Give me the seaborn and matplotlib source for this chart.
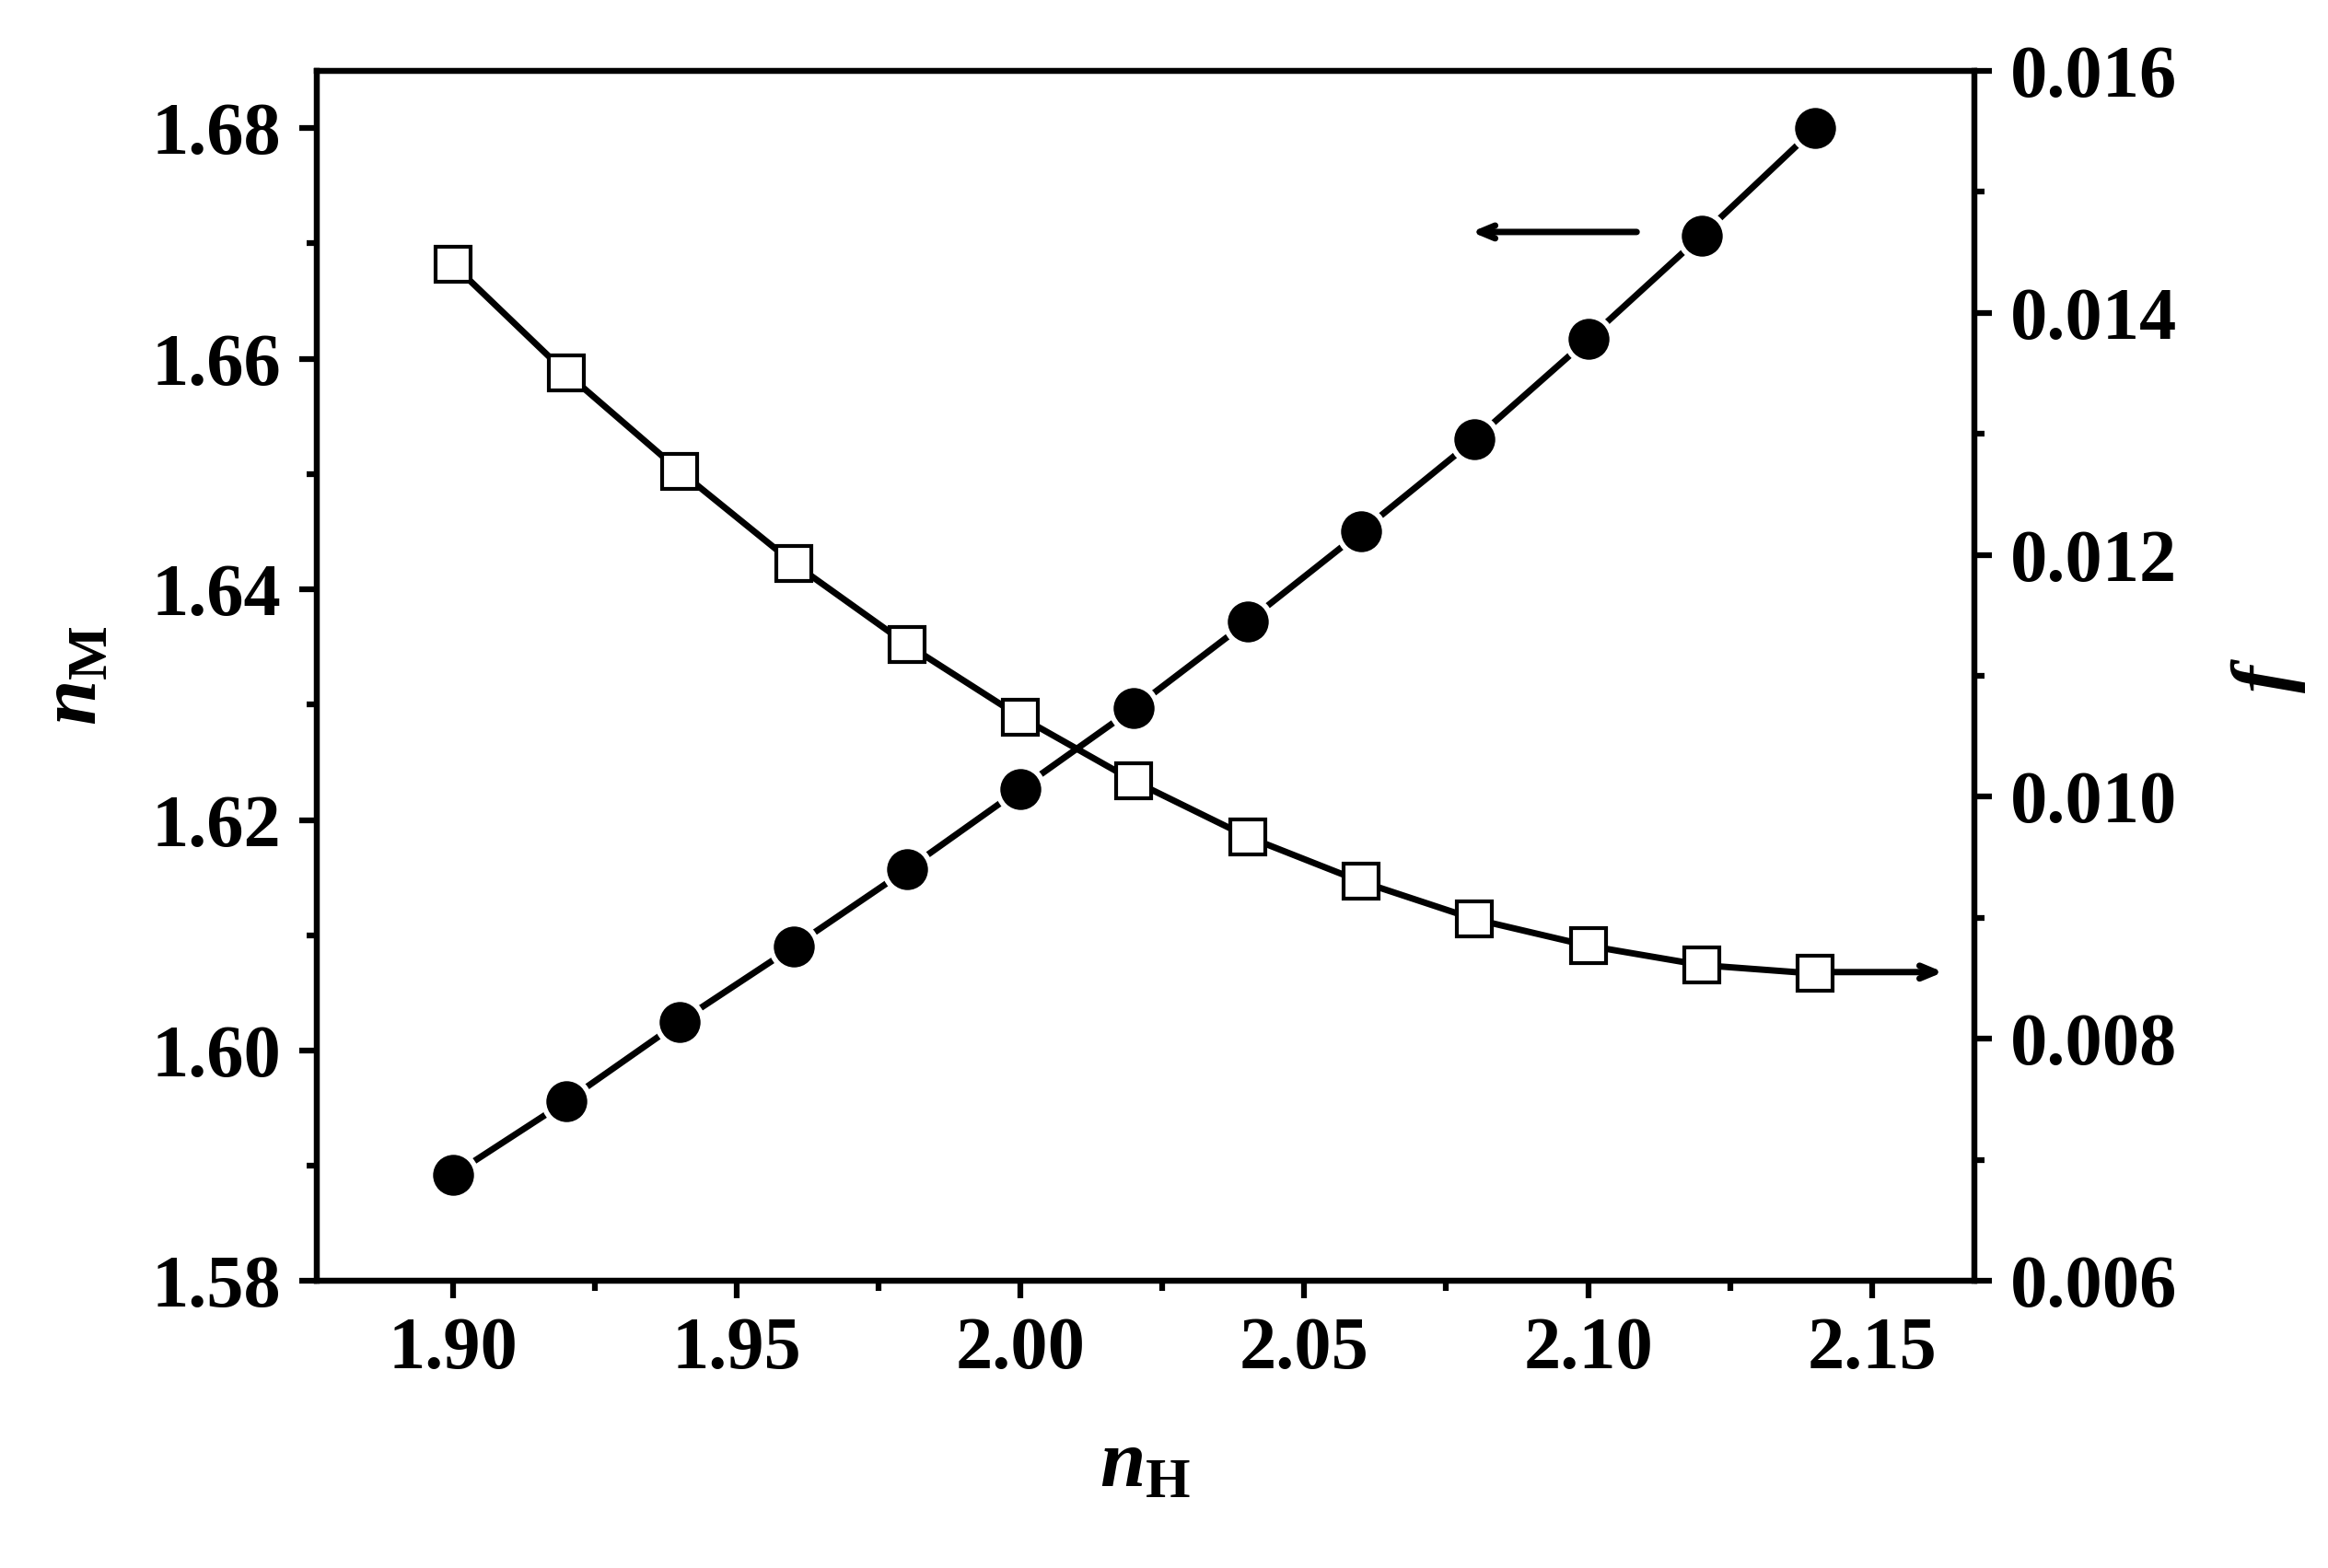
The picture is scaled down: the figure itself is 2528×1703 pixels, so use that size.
import matplotlib
matplotlib.use("Agg")
import matplotlib.pyplot as plt
import seaborn as sns
import pandas as pd
from matplotlib.ticker import MultipleLocator

nH = [1.90, 1.92, 1.94, 1.96, 1.98, 2.00, 2.02, 2.04, 2.06, 2.08, 2.10, 2.12, 2.14]
nM = [1.5892, 1.5956, 1.6025, 1.6090, 1.6157, 1.6227, 1.6297, 1.6372, 1.6450, 1.6530, 1.6617, 1.6707, 1.6800]
f = [0.01440, 0.01350, 0.01269, 0.01193, 0.01126, 0.01066, 0.01013, 0.00967, 0.00930, 0.00899, 0.00877, 0.00861, 0.00854]

sns.set_style("ticks")
plt.rcParams.update({
    "font.family": "serif", "font.serif": ["Liberation Serif"], "font.weight": "bold",
    "mathtext.fontset": "custom", "mathtext.rm": "Liberation Serif:bold",
    "mathtext.it": "Liberation Serif:italic:bold", "mathtext.bf": "Liberation Serif:bold",
    "text.color": "black", "axes.labelcolor": "black", "xtick.color": "black",
    "ytick.color": "black", "axes.edgecolor": "black",
})
df = pd.DataFrame({"nH": nH, "nM": nM, "f": f})

fig = plt.figure(figsize=(25.28, 17.03), dpi=100)
ax = fig.add_axes([0.136, 0.183, 0.712, 0.772])
ax2 = ax.twinx()
sns.lineplot(data=df, x="nH", y="nM", ax=ax, color="black", lw=5, marker="o",
             markersize=36, markerfacecolor="black", markeredgecolor="white", markeredgewidth=4)
sns.lineplot(data=df, x="nH", y="f", ax=ax2, color="black", lw=5, marker="s",
             markersize=27, markerfacecolor="white", markeredgecolor="black", markeredgewidth=3)

ax.set_xlim(1.876, 2.168)
ax.set_ylim(1.58, 1.685)
ax2.set_ylim(0.006, 0.016)
ax.set_xticks([1.90, 1.95, 2.00, 2.05, 2.10, 2.15])
ax.set_yticks([1.58, 1.60, 1.62, 1.64, 1.66, 1.68])
ax2.set_yticks([0.006, 0.008, 0.010, 0.012, 0.014, 0.016])
ax.xaxis.set_minor_locator(MultipleLocator(0.025))
ax.yaxis.set_minor_locator(MultipleLocator(0.01))
ax2.yaxis.set_minor_locator(MultipleLocator(0.001))
ax.set_xticklabels(["1.90", "1.95", "2.00", "2.05", "2.10", "2.15"])
ax.set_yticklabels(["1.58", "1.60", "1.62", "1.64", "1.66", "1.68"])
ax2.set_yticklabels(["0.006", "0.008", "0.010", "0.012", "0.014", "0.016"])
for a in (ax, ax2):
    a.tick_params(which="major", direction="out", length=14, width=4.5, labelsize=58, pad=14)
    a.tick_params(which="minor", direction="out", length=8, width=4.5)
    for s in a.spines.values():
        s.set_linewidth(4.5)
        s.set_visible(True)
ax.set_xlabel(r"$n_{\mathrm{H}}$", fontsize=64, labelpad=35)
ax.set_ylabel(r"$n_{\mathrm{M}}$", fontsize=64, labelpad=30)
ax2.set_ylabel(r"$f$", fontsize=64, labelpad=40)

ax.annotate("", xy=(2.079, 1.671), xytext=(2.109, 1.671),
            arrowprops=dict(arrowstyle="->,head_length=1.2,head_width=0.5", lw=5, color="black"))
ax.annotate("", xy=(2.163, 1.6068), xytext=(2.142, 1.6068),
            arrowprops=dict(arrowstyle="->,head_length=1.2,head_width=0.5", lw=5, color="black"))

fig.savefig("out.png", dpi=100, facecolor="white")
